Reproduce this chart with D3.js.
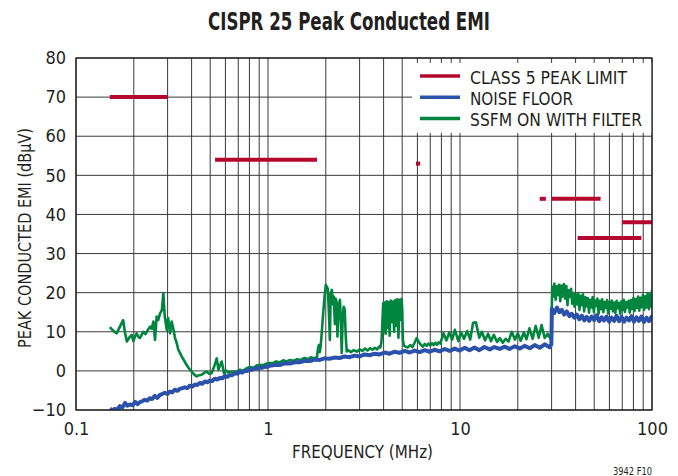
<!DOCTYPE html>
<html>
<head>
<meta charset="utf-8">
<script src="https://cdn.jsdelivr.net/npm/d3@7"></script>
<style>
  html, body { margin: 0; padding: 0; background: #fff; }
  svg { display: block; }
  text { font-family: 'Liberation Sans Narrow', 'DejaVu Sans Condensed', 'Arial Narrow', sans-serif; fill: #231f20; }
</style>
</head>
<body>
<svg id="chart" width="678" height="476"></svg>
<script>
// CISPR 25 class 5 peak conducted limit segments (MHz, dBµV)
const limitStartMHz = [0.15, 0.53, 5.9, 26, 30, 41, 70];
const limitEndMHz   = [0.3, 1.8, 6.2, 28, 54, 88, 108];
const limitLevel    = [70, 54, 53, 44, 44, 34, 38];

// Measured noise floor, [frequency MHz, dBµV]
const noiseFloor = [
  [0.150,-9.6],[0.155,-10.2],[0.159,-9.7],[0.164,-9.9],[0.169,-9.0],[0.174,-9.4],[0.180,-8.2],[0.185,-8.9],
  [0.191,-8.6],[0.197,-8.8],[0.203,-7.9],[0.209,-8.5],[0.215,-8.0],[0.221,-7.8],[0.228,-7.4],[0.235,-7.6],
  [0.242,-7.0],[0.249,-7.2],[0.257,-6.4],[0.265,-6.9],[0.273,-6.2],[0.281,-5.9],[0.290,-5.6],[0.299,-5.9],
  [0.308,-5.3],[0.317,-5.5],[0.327,-4.8],[0.337,-5.1],[0.347,-4.6],[0.358,-4.4],[0.369,-4.2],[0.380,-4.4],
  [0.391,-3.8],[0.403,-4.0],[0.416,-3.5],[0.428,-3.6],[0.441,-3.1],[0.455,-3.3],[0.469,-2.7],[0.483,-2.9],
  [0.497,-2.5],[0.512,-2.6],[0.528,-2.0],[0.544,-2.2],[0.561,-1.8],[0.578,-1.9],[0.596,-1.3],[0.614,-1.5],
  [0.632,-1.1],[0.651,-1.1],[0.671,-0.6],[0.692,-0.7],[0.713,-0.3],[0.735,-0.4],[0.757,0.0],[0.780,0.0],
  [0.804,0.3],[0.828,0.3],[0.853,0.6],[0.880,0.6],[0.906,0.8],[0.934,0.8],[0.962,1.1],[0.990,1.0],
  [1.02,1.3],[1.08,1.5],[1.15,1.5],[1.22,1.9],[1.30,1.9],[1.38,2.2],[1.46,2.2],[1.55,2.6],[1.65,2.5],
  [1.75,2.9],[1.86,2.8],[1.97,3.2],[2.09,3.1],[2.22,3.4],[2.36,3.3],[2.51,3.7],[2.66,3.5],[2.83,3.9],
  [3.00,3.7],[3.19,4.2],[3.38,4.0],[3.59,4.4],[3.81,4.2],[4.05,4.7],[4.30,4.4],[4.57,4.9],[4.85,4.6],
  [5.15,5.1],[5.47,4.7],[5.80,5.2],[6.16,4.8],[6.54,5.3],[6.95,4.9],[7.38,5.4],[7.83,5.0],[8.32,5.6],
  [8.83,5.1],[9.38,5.7],[9.96,5.2],[10.6,5.9],[11.2,5.3],[11.9,6.0],[12.6,5.3],[13.4,6.1],[14.3,5.5],
  [15.1,6.1],[16.1,5.6],[17.1,6.2],[18.1,5.6],[19.3,6.3],[20.5,5.7],[21.7,6.4],[23.1,5.8],[24.5,6.6],
  [26.0,5.9],[27.6,6.8],[29.3,6.0],[29.9,6.8],
  [30.1,15.9],[31.0,14.8],[32.0,16.2],[32.9,15.0],[33.9,15.6],[34.9,14.4],[36.0,15.2],[37.1,14.0],
  [38.2,14.6],[39.4,13.6],[40.6,14.4],[41.8,13.2],[43.1,14.1],[44.4,12.9],[45.7,13.8],[47.1,12.8],
  [48.5,13.9],[50.0,13.0],[51.5,14.2],[53.1,12.7],[54.7,13.7],[56.3,12.9],[58.0,13.9],[59.8,12.6],
  [61.6,13.6],[63.5,12.8],[65.4,14.1],[67.4,12.7],[69.4,13.8],[71.5,12.6],[73.7,13.6],[75.9,12.9],
  [78.2,14.0],[80.6,12.6],[83.0,13.7],[85.5,12.8],[88.1,13.9],[90.8,12.5],[93.6,13.6],[96.4,12.7],
  [99.3,13.8],[100,13.2]
];

// Spread-spectrum on, with input filter, [frequency MHz, dBµV]
const ssfmFiltered = [
  [0.150,11.2],[0.156,10.3],[0.163,9.6],[0.170,11.5],[0.176,13.0],[0.180,9.8],[0.184,7.5],[0.190,8.6],
  [0.195,9.2],[0.199,7.6],[0.203,8.8],[0.207,9.6],[0.211,8.8],[0.215,8.4],[0.220,9.3],[0.224,10.0],
  [0.230,9.4],[0.237,10.5],[0.243,11.3],[0.248,10.8],[0.253,12.6],[0.258,7.9],[0.263,13.9],[0.268,13.0],
  [0.274,14.7],[0.280,15.5],[0.285,19.9],[0.290,13.9],[0.297,10.5],[0.302,13.5],[0.309,9.6],[0.315,12.6],
  [0.322,10.5],[0.328,8.4],[0.335,7.0],[0.341,5.4],[0.348,4.6],[0.355,3.7],[0.366,2.6],[0.377,1.5],
  [0.388,0.6],[0.400,-0.2],[0.412,-0.9],[0.425,-1.4],[0.438,-1.1],[0.451,-1.0],[0.465,-0.5],[0.479,-0.2],
  [0.494,-0.7],[0.509,-0.6],[0.525,1.2],[0.541,3.2],[0.552,0.3],[0.563,1.5],[0.574,2.4],[0.590,-0.6],
  [0.605,0.1],[0.621,-0.4],[0.650,-0.2],[0.680,-0.3],[0.715,0.3],[0.740,0.0],[0.770,0.6],[0.805,1.0],
  [0.840,0.8],[0.875,1.4],[0.909,1.5],[0.950,1.5],[0.985,1.9],[1.02,2.0],
  [1.06,2.0],[1.10,2.4],[1.15,2.2],[1.20,2.7],[1.25,2.4],[1.30,2.8],[1.36,2.6],[1.42,3.0],[1.48,2.8],
  [1.55,3.3],[1.62,3.0],[1.68,3.5],[1.74,3.2],[1.80,3.6],[1.82,5.5],[1.84,6.6],[1.86,4.8],[1.88,6.2],
  [1.91,10.5],[1.94,15.0],[1.97,19.0],[2.00,22.0],[2.02,21.5],[2.05,21.0],[2.08,14.0],[2.10,7.9],
  [2.12,19.5],[2.15,20.7],[2.18,17.0],[2.20,19.0],[2.23,12.0],[2.25,18.5],[2.28,17.5],[2.30,8.8],
  [2.33,16.0],[2.37,18.2],[2.40,12.0],[2.42,4.6],[2.45,14.0],[2.48,16.4],[2.51,15.6],[2.54,9.0],
  [2.57,5.0],[2.62,5.3],[2.70,4.8],[2.80,5.3],[2.90,4.9],[3.00,5.5],[3.10,5.1],[3.20,5.7],[3.30,5.2],
  [3.40,5.8],[3.50,5.4],[3.60,5.9],[3.70,5.5],[3.80,6.2],[3.85,6.0],
  [3.90,7.5],[3.94,12.0],[3.98,17.3],[4.02,10.0],[4.06,17.5],[4.10,9.5],[4.15,17.8],[4.20,11.0],
  [4.25,17.6],[4.30,9.0],[4.36,18.0],[4.42,12.5],[4.48,17.7],[4.54,10.0],[4.60,18.1],[4.66,11.5],
  [4.72,18.3],[4.78,8.5],[4.84,18.2],[4.90,13.0],[4.96,18.4],[5.00,16.0],[5.04,8.0],[5.10,6.5],[5.20,6.2],
  [5.35,6.0],[5.50,6.6],[5.65,6.1],[5.80,7.2],[5.95,8.4],[6.10,7.4],[6.25,6.7],[6.40,6.2],[6.55,6.9],
  [6.70,6.4],[6.85,7.0],[7.00,6.5],[7.15,7.1],[7.30,6.6],[7.45,7.2],[7.60,6.7],[7.75,7.3],
  [7.9,7.0],[8.2,9.6],[8.5,7.8],[8.8,9.8],[9.1,8.0],[9.4,10.5],[9.8,7.6],[10.1,9.9],[10.5,8.2],
  [10.9,10.2],[11.3,8.0],[11.7,12.3],[12.1,12.4],[12.6,8.5],[13.0,10.0],[13.5,7.8],[14.0,9.5],
  [14.5,7.6],[15.0,9.2],[15.6,7.4],[16.1,8.4],[16.7,7.2],[17.3,8.2],[17.9,7.5],[18.6,10.0],[19.3,8.0],
  [20.0,9.6],[20.7,7.7],[21.5,9.8],[22.2,8.1],[23.0,10.9],[23.9,8.2],[24.8,11.5],[25.7,8.5],[26.6,11.7],
  [27.6,8.4],[28.6,9.5],[29.6,8.2],[29.9,9.0],
  [30.2,21.5],[30.6,19.0],[31.0,22.3],[31.5,18.2],[31.9,21.6],[32.4,19.4],[32.8,22.0],[33.3,17.8],
  [33.8,21.8],[34.3,19.0],[34.8,22.2],[35.3,18.5],[35.8,21.7],[36.3,16.8],[36.8,20.6],[37.3,18.9],
  [37.9,21.0],[38.4,17.2],[39.0,19.8],[39.5,16.4],[40.1,19.5],[40.7,17.0],[41.3,19.9],[41.9,15.6],
  [42.5,19.2],[43.1,16.8],[43.7,19.6],[44.3,15.2],[45.0,18.8],[45.6,16.5],[46.3,18.6],[47.0,14.9],
  [47.7,18.2],[48.4,16.2],[49.1,18.9],[49.8,15.1],[50.5,18.0],[51.2,16.6],[52.0,18.5],[52.7,14.6],
  [53.5,17.9],[54.2,15.8],[55.0,18.3],[55.8,15.0],[56.6,17.6],[57.5,16.1],[58.3,18.1],[59.1,14.7],
  [60.0,17.6],[60.8,15.9],[61.7,18.0],[62.6,15.2],[63.5,17.5],[64.4,14.8],[65.4,17.9],[66.3,16.0],
  [67.3,17.4],[68.3,14.6],[69.3,17.8],[70.3,15.6],[71.3,18.2],[72.3,15.1],[73.4,17.6],[74.4,16.2],
  [75.5,17.9],[76.6,14.9],[77.7,18.1],[78.8,15.8],[80.0,18.6],[81.1,15.3],[82.3,18.4],[83.5,16.1],
  [84.7,19.0],[85.9,15.4],[87.2,18.7],[88.4,16.3],[89.7,19.4],[91.0,15.6],[92.3,19.1],[93.6,16.2],
  [95.0,19.9],[96.4,15.8],[97.8,19.6],[99.2,16.5],[100,20.7]
];

const yTickValues = [-10, 0, 10, 20, 30, 40, 50, 60, 70, 80];
const xTickValues = [0.1, 1, 10, 100];
const xTickLabels = ["0.1", "1", "10", "100"];
const legendLabels = ["CLASS 5 PEAK LIMIT", "NOISE FLOOR", "SSFM ON WITH FILTER"];

const COLORS = { limit: "#b3072d", floor: "#2b52ab", ssfm: "#00853f", grid: "#3a3a3a" };
const plot = { left: 76, right: 652, top: 58, bottom: 410 };

const svg = d3.select("#chart");

const x = d3.scaleLog().domain([0.1, 100]).range([plot.left, plot.right]);
const y = d3.scaleLinear().domain([-10, 80]).range([plot.bottom, plot.top]);

svg.append("defs").append("clipPath").attr("id", "plot-clip")
  .append("rect")
  .attr("x", plot.left).attr("y", plot.top)
  .attr("width", plot.right - plot.left).attr("height", plot.bottom - plot.top);

// Grid
const grid = svg.append("g").attr("class", "grid");
grid.selectAll("line.v").data(x.ticks()).join("line")
  .attr("class", "v")
  .attr("x1", d => x(d)).attr("x2", d => x(d))
  .attr("y1", plot.top).attr("y2", plot.bottom)
  .attr("stroke", COLORS.grid).attr("stroke-width", 1);
grid.selectAll("line.h").data(yTickValues).join("line")
  .attr("class", "h")
  .attr("x1", plot.left).attr("x2", plot.right)
  .attr("y1", d => y(d)).attr("y2", d => y(d))
  .attr("stroke", COLORS.grid).attr("stroke-width", 1);

// Legend background masks the grid in the upper right corner
const legend = svg.append("g").attr("class", "legend");
legend.append("rect")
  .attr("x", 412).attr("y", 63).attr("width", plot.right - 412).attr("height", 70)
  .attr("fill", "#fff");

// Traces
const traces = svg.append("g").attr("clip-path", "url(#plot-clip)");
const line = d3.line().x(d => x(d[0])).y(d => y(d[1]));

traces.append("path").datum(ssfmFiltered)
  .attr("d", line).attr("fill", "none")
  .attr("stroke", COLORS.ssfm).attr("stroke-width", 2.6).attr("stroke-linejoin", "round");

traces.append("path").datum(noiseFloor)
  .attr("d", line).attr("fill", "none")
  .attr("stroke", COLORS.floor).attr("stroke-width", 4).attr("stroke-linejoin", "round");

// Limit segments
traces.selectAll("line.limit").data(limitLevel).join("line")
  .attr("class", "limit")
  .attr("x1", (d, i) => x(limitStartMHz[i]))
  .attr("x2", (d, i) => x(limitEndMHz[i]))
  .attr("y1", d => y(d)).attr("y2", d => y(d))
  .attr("stroke", COLORS.limit).attr("stroke-width", 4);

// Frame
svg.append("rect")
  .attr("x", plot.left).attr("y", plot.top)
  .attr("width", plot.right - plot.left).attr("height", plot.bottom - plot.top)
  .attr("fill", "none").attr("stroke", "#231f20").attr("stroke-width", 1.3);

// Axes
const yAxis = svg.append("g")
  .attr("transform", `translate(${plot.left},0)`)
  .call(d3.axisLeft(y).tickValues(yTickValues).tickSize(0).tickPadding(10));
const xAxis = svg.append("g")
  .attr("transform", `translate(0,${plot.bottom})`)
  .call(d3.axisBottom(x).tickValues(xTickValues).tickSize(0).tickPadding(12)
    .tickFormat((d, i) => xTickLabels[i]));
[yAxis, xAxis].forEach(g => {
  g.select(".domain").remove();
  g.selectAll("text").attr("font-size", 18).attr("fill", "#231f20")
    .style("font-family", "'Liberation Sans Narrow', 'DejaVu Sans Condensed', 'Arial Narrow', sans-serif");
});

// Legend entries
const legendColors = [COLORS.limit, COLORS.floor, COLORS.ssfm];
const legendWidths = [157, 103, 172];
legendLabels.forEach((label, i) => {
  const cy = 76 + i * 21.3;
  legend.append("line")
    .attr("x1", 420).attr("x2", 460).attr("y1", cy).attr("y2", cy)
    .attr("stroke", legendColors[i]).attr("stroke-width", 3.5);
  legend.append("text")
    .attr("x", 470).attr("y", cy + 7.5)
    .attr("font-size", 18)
    .attr("textLength", legendWidths[i]).attr("lengthAdjust", "spacingAndGlyphs")
    .text(label);
});

// Titles
svg.append("text")
  .attr("x", 208).attr("y", 30)
  .attr("font-size", 25).attr("font-weight", "bold")
  .attr("textLength", 282).attr("lengthAdjust", "spacingAndGlyphs")
  .text("CISPR 25 Peak Conducted EMI");

svg.append("text")
  .attr("transform", "translate(31,238) rotate(-90)")
  .attr("text-anchor", "middle")
  .attr("font-size", 18)
  .attr("textLength", 220).attr("lengthAdjust", "spacingAndGlyphs")
  .text("PEAK CONDUCTED EMI (dBµV)");

svg.append("text")
  .attr("x", 362.5).attr("y", 458)
  .attr("text-anchor", "middle")
  .attr("font-size", 18)
  .attr("textLength", 141).attr("lengthAdjust", "spacingAndGlyphs")
  .text("FREQUENCY (MHz)");

svg.append("text")
  .attr("x", 613).attr("y", 475)
  .attr("font-size", 10.5)
  .attr("textLength", 39).attr("lengthAdjust", "spacingAndGlyphs")
  .text("3942 F10");
</script>
</body>
</html>
